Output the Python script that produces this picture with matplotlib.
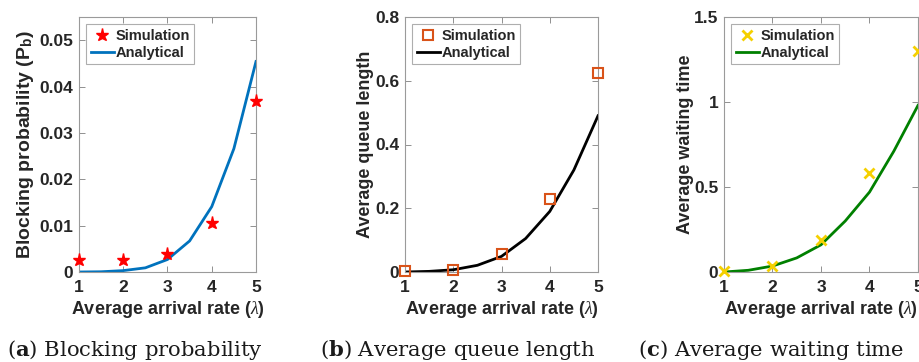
import numpy as np
import matplotlib.pyplot as plt

plt.rcParams['font.family'] = ['Liberation Sans', 'DejaVu Sans']
plt.rcParams['mathtext.fontset'] = 'custom'
plt.rcParams['mathtext.rm'] = 'DejaVu Serif'
plt.rcParams['mathtext.it'] = 'Liberation Serif:italic'
plt.rcParams['mathtext.bf'] = 'DejaVu Serif:bold'
plt.rcParams['mathtext.sf'] = 'Liberation Sans:bold'

# arrival rates
lam_sim = [1, 2, 3, 4, 5]
lam_ana = [1, 1.5, 2, 2.5, 3, 3.5, 4, 4.5, 5]

# (a) blocking probability
pb_sim = [0.0025, 0.0025, 0.0038, 0.0106, 0.0368]
pb_ana = [0.0, 0.00005, 0.0003, 0.0009, 0.0027, 0.0067, 0.0141, 0.0266, 0.0454]

# (b) average queue length
lq_sim = [0.003, 0.007, 0.055, 0.229, 0.624]
lq_ana = [0.0, 0.002, 0.007, 0.021, 0.049, 0.105, 0.19, 0.32, 0.49]

# (c) average waiting time
wq_sim = [0.005, 0.035, 0.19, 0.58, 1.30]
wq_ana = [0.0, 0.01, 0.035, 0.083, 0.16, 0.30, 0.47, 0.71, 0.98]

fig = plt.figure(figsize=(9.2, 3.62), dpi=100)

H = 362.0
W = 920.0
def place(left, right, top=17, bottom=272):
    return [left / W, (H - bottom) / H, (right - left) / W, (bottom - top) / H]

ax1 = fig.add_axes(place(79, 256))
ax2 = fig.add_axes(place(405, 598))
ax3 = fig.add_axes(place(724, 918))

xlabel = r'Average arrival rate ($\lambda$)'


def style(ax, ylim, yticks, yticklabels, ylabel, ylab_x, ylab_fs=13):
    ax.set_xlim(1, 5)
    ax.set_ylim(*ylim)
    ax.set_xticks([1, 2, 3, 4, 5])
    ax.set_yticks(yticks)
    ax.set_yticklabels(yticklabels)
    ax.tick_params(direction='in', top=True, right=True, length=4, width=0.6,
                   color='#7f7f7f', labelsize=12.5, labelcolor='#262626')
    ax.tick_params(axis='x', pad=6)
    ax.tick_params(axis='y', pad=4)
    for lab in ax.get_xticklabels() + ax.get_yticklabels():
        lab.set_fontweight('bold')
    for s in ax.spines.values():
        s.set_color('#9a9a9a')
        s.set_linewidth(0.8)
    ax.set_xlabel(xlabel, fontsize=13, fontweight='bold', color='#262626', va='center')
    ax.xaxis.set_label_coords(0.5, -0.149)
    ax.set_ylabel(ylabel, fontsize=ylab_fs, fontweight='bold', color='#262626', va='center')
    ax.yaxis.set_label_coords(ylab_x, 0.5)
    leg = ax.legend(loc='upper left', frameon=True, fancybox=False, fontsize=10.5,
                    handlelength=1.6, handletextpad=0.1, borderpad=0.3,
                    labelspacing=0.22, borderaxespad=0.5)
    leg.get_frame().set_edgecolor('#9a9a9a')
    leg.get_frame().set_linewidth(0.8)
    for t in leg.get_texts():
        t.set_fontweight('bold')
        t.set_color('#262626')


ax1.plot(lam_sim, pb_sim, linestyle='none', marker='*', markersize=9.5,
         color='#ff0000', label='Simulation', clip_on=False, zorder=3)
ax1.plot(lam_ana, pb_ana, color='#0072bd', linewidth=2, label='Analytical')
style(ax1, (0, 0.055), [0, 0.01, 0.02, 0.03, 0.04, 0.05],
      ['0', '0.01', '0.02', '0.03', '0.04', '0.05'],
      r'Blocking probability (P$_\mathsf{b}$)', -0.305, ylab_fs=14)

ax2.plot(lam_sim, lq_sim, linestyle='none', marker='s', markersize=6.5,
         markerfacecolor='none', markeredgecolor='#d95319', markeredgewidth=1.5,
         label='Simulation', clip_on=False, zorder=3)
ax2.plot(lam_ana, lq_ana, color='black', linewidth=2, label='Analytical')
style(ax2, (0, 0.8), [0, 0.2, 0.4, 0.6, 0.8],
      ['0', '0.2', '0.4', '0.6', '0.8'], 'Average queue length', -0.207)

ax3.plot(lam_sim, wq_sim, linestyle='none', marker='x', markersize=7,
         markeredgewidth=2, color='#f5d000', label='Simulation',
         clip_on=False, zorder=3)
ax3.plot(lam_ana, wq_ana, color='#008000', linewidth=2, label='Analytical')
style(ax3, (0, 1.5), [0, 0.5, 1, 1.5], ['0', '0.5', '1', '1.5'],
      'Average waiting time', -0.201)

cy = (H - 356) / H
caps = [(135, 'a', 'Blocking probability'),
        (458, 'b', 'Average queue length'),
        (771, 'c', 'Average waiting time')]
for xc, letter, text in caps:
    fig.text(xc / W, cy, r'($\mathbf{%s}$) %s' % (letter, text), ha='center',
             va='baseline', fontsize=15.2, family='DejaVu Serif', color='#1a1a1a')

fig.savefig('out.png', dpi=100)
